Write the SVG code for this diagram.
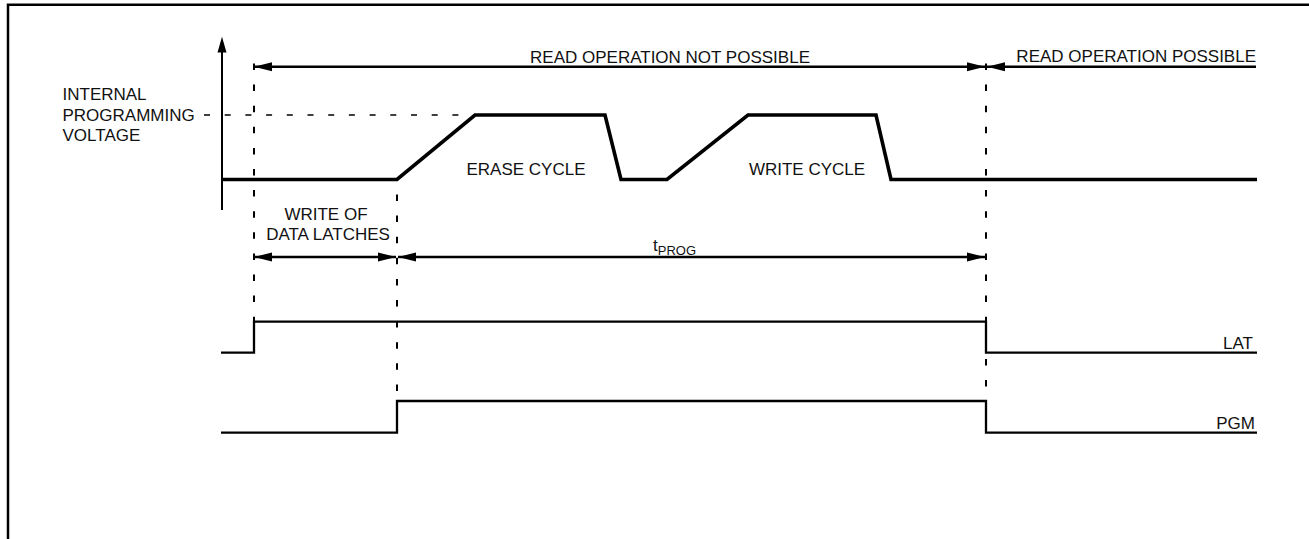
<svg xmlns="http://www.w3.org/2000/svg" width="1309" height="539" viewBox="0 0 1309 539">
<style>
  text { font-family: "Liberation Sans", Arial, sans-serif; font-size: 17px; fill: #111; }
  .sig { fill: none; stroke: #000; stroke-width: 2.3; }
  .volt { fill: none; stroke: #000; stroke-width: 3.6; stroke-linejoin: miter; }
  .guide { fill: none; stroke: #000; stroke-width: 2; stroke-dasharray: 6.5 14.6; }
  .hguide { fill: none; stroke: #000; stroke-width: 1.6; stroke-dasharray: 6 14.7; }
  .arr { fill: none; stroke: #000; stroke-width: 2.4; }
</style>
<defs>
  <marker id="ah" markerUnits="userSpaceOnUse" markerWidth="19" markerHeight="10" refX="18" refY="5" orient="auto-start-reverse" viewBox="0 0 19 10">
    <path d="M0,0.5 L18,5 L0,9.5 Z" fill="#000"/>
  </marker>
</defs>
<rect width="1309" height="539" fill="#fff"/>

<g id="frame">
  <path d="M8,539 V4.8 H1309" fill="none" stroke="#000" stroke-width="2.5"/>
</g>

<g id="axis">
  <line x1="222" y1="210" x2="222" y2="50" stroke="#000" stroke-width="2"/>
  <path d="M222,36.7 L226.5,52.5 L217.5,52.5 Z" fill="#000"/>
  <text x="62.5" y="100">INTERNAL</text>
  <text x="62.5" y="120.5">PROGRAMMING</text>
  <text x="62.5" y="141">VOLTAGE</text>
</g>

<g id="guides">
  <line class="hguide" x1="204" y1="115" x2="476" y2="115"/>
  <line class="guide" x1="254" y1="63.5" x2="254" y2="321"/>
  <line class="guide" x1="397" y1="194.5" x2="397" y2="401"/>
  <line class="guide" x1="986" y1="63.5" x2="986" y2="402"/>
</g>

<g id="voltage">
  <path class="volt" d="M222,179.5 H397 L475,115 H605 L621,179.5 H667 L748,115 H876 L891,179.5 H1257"/>
  <text x="526" y="174.5" text-anchor="middle">ERASE CYCLE</text>
  <text x="807" y="174.5" text-anchor="middle">WRITE CYCLE</text>
</g>

<g id="lat">
  <path class="sig" d="M221,352.7 H254 V321.7 H986 V352.7 H1257"/>
  <text x="1253" y="349" text-anchor="end">LAT</text>
</g>

<g id="pgm">
  <path class="sig" d="M221,432.7 H397 V401 H986 V432.7 H1257"/>
  <text x="1255" y="429" text-anchor="end">PGM</text>
</g>

<g id="connectors">
  <line class="arr" x1="254" y1="66.7" x2="985" y2="66.7" marker-start="url(#ah)" marker-end="url(#ah)"/>
  <line class="arr" x1="987" y1="66.7" x2="1256" y2="66.7" marker-start="url(#ah)"/>
  <line class="arr" x1="254" y1="257" x2="396" y2="257" marker-start="url(#ah)" marker-end="url(#ah)"/>
  <line class="arr" x1="398" y1="257" x2="985" y2="257" marker-start="url(#ah)" marker-end="url(#ah)"/>
</g>

<g id="labels">
  <text x="670" y="62.7" text-anchor="middle">READ OPERATION NOT POSSIBLE</text>
  <text x="1256" y="61.7" text-anchor="end">READ OPERATION POSSIBLE</text>
  <text x="326" y="220" text-anchor="middle">WRITE OF</text>
  <text x="328" y="240" text-anchor="middle">DATA LATCHES</text>
  <text x="653" y="250.5">t<tspan font-size="13" dy="4.5">PROG</tspan></text>
</g>
</svg>
